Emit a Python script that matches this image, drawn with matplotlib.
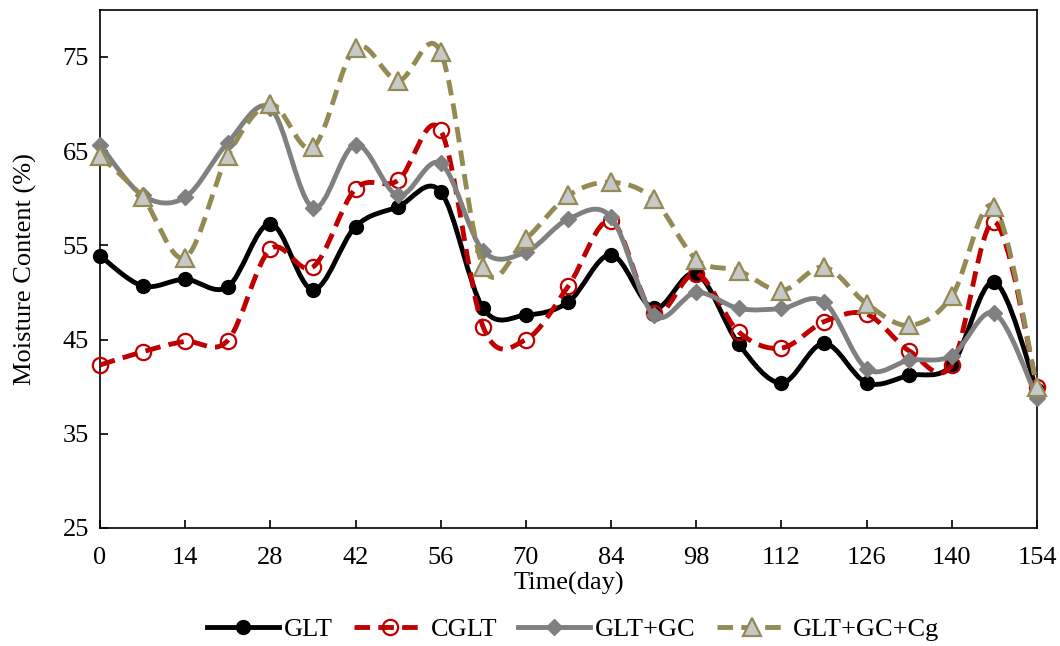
import numpy as np
import matplotlib
matplotlib.use("Agg")
import matplotlib.pyplot as plt
from matplotlib.path import Path
from matplotlib.patches import PathPatch
from matplotlib.lines import Line2D

plt.rcParams['font.family'] = ['Liberation Serif', 'DejaVu Serif']

days = list(range(0, 155, 7))
glt = [53.9, 50.7, 51.4, 50.6, 57.3, 50.3, 57.0, 59.1, 60.7, 48.3, 47.6, 49.0,
       54.0, 48.3, 52.0, 44.5, 40.4, 44.6, 40.4, 41.2, 42.3, 51.1, 39.6]
cglt = [42.3, 43.7, 44.8, 44.9, 54.6, 52.7, 61.0, 61.9, 67.2, 46.3, 45.0, 50.7,
        57.6, 47.8, 52.0, 45.8, 44.1, 46.9, 47.7, 43.8, 42.3, 57.5, 40.0]
glt_gc = [65.7, 60.3, 60.1, 65.9, 69.6, 59.0, 65.7, 60.3, 63.7, 54.4, 54.3, 57.8,
          58.0, 47.6, 50.0, 48.3, 48.3, 49.0, 41.9, 42.8, 43.3, 47.8, 38.8]
glt_gc_cg = [64.5, 60.1, 53.7, 64.5, 70.0, 65.4, 76.0, 72.5, 75.5, 52.7, 55.7, 60.3,
             61.7, 59.9, 53.5, 52.3, 50.2, 52.7, 48.8, 46.5, 49.6, 59.1, 40.0]
labels = ['GLT', 'CGLT', 'GLT+GC', 'GLT+GC+Cg']


def smooth_path(x, y):
    # bezier through every point, like the "smoothed line" option in excel
    p = np.column_stack([x, y]).astype(float)
    ext = np.vstack([p[0], p, p[-1]])
    verts = [p[0]]
    for i in range(len(p) - 1):
        c1 = ext[i + 1] + (ext[i + 2] - ext[i]) / 6
        c2 = ext[i + 2] - (ext[i + 3] - ext[i + 1]) / 6
        verts += [c1, c2, ext[i + 2]]
    codes = [Path.MOVETO] + [Path.CURVE4] * (len(verts) - 1)
    return Path(verts, codes)


fig = plt.figure(figsize=(10.6, 6.46), dpi=100)
ax = fig.add_axes([0.0943, 0.1827, 0.8840, 0.8020])

dash = (0, (3.2, 1.7))
styles = [
    dict(color='black', ls='-', marker='o', ms=10, mfc='black', mec='black', mew=1),
    dict(color='#C00000', ls=dash, marker='o', ms=11, mfc='none', mec='#C00000', mew=1.6),
    dict(color='#808080', ls='-', marker='D', ms=8, mfc='#808080', mec='#808080', mew=1),
    dict(color='#948A54', ls=dash, marker='^', ms=13, mfc='#C8C8C8', mec='#948A54', mew=1.6),
]
series = [glt, cglt, glt_gc, glt_gc_cg]

handles = []
for k, (vals, st) in enumerate(zip(series, styles)):
    patch = PathPatch(smooth_path(days, vals), fill=False, edgecolor=st['color'],
                      lw=3.5, linestyle=st['ls'], capstyle='butt', zorder=2 + k)
    ax.add_patch(patch)
    ax.plot(days, vals, ls='none', marker=st['marker'], ms=st['ms'], mfc=st['mfc'],
            mec=st['mec'], mew=st['mew'], zorder=2 + k, clip_on=False)
    handles.append(Line2D([], [], color=st['color'], lw=3.5, ls=st['ls'],
                          marker=st['marker'], ms=st['ms'], mfc=st['mfc'],
                          mec=st['mec'], mew=st['mew']))

ax.set_xlim(0, 154)
ax.set_ylim(25, 80)
ax.set_xticks(range(0, 155, 14))
ax.set_yticks(range(25, 80, 10))
ax.tick_params(direction='in', labelsize=19, length=6, width=1.2)
ax.tick_params(axis='x', pad=14)
ax.tick_params(axis='y', pad=8)
for s in ax.spines.values():
    s.set_linewidth(1.2)

ax.set_xlabel('Time(day)', fontsize=19, labelpad=2)
ax.set_ylabel('Moisture Content (%)', fontsize=19, labelpad=18)

fig.legend(handles, labels, loc='center', bbox_to_anchor=(0.541, 0.026), ncol=4,
           frameon=False, fontsize=19, handlelength=2.7, handletextpad=0.2,
           columnspacing=0.8, borderpad=0)

fig.savefig('out.png', dpi=100)
